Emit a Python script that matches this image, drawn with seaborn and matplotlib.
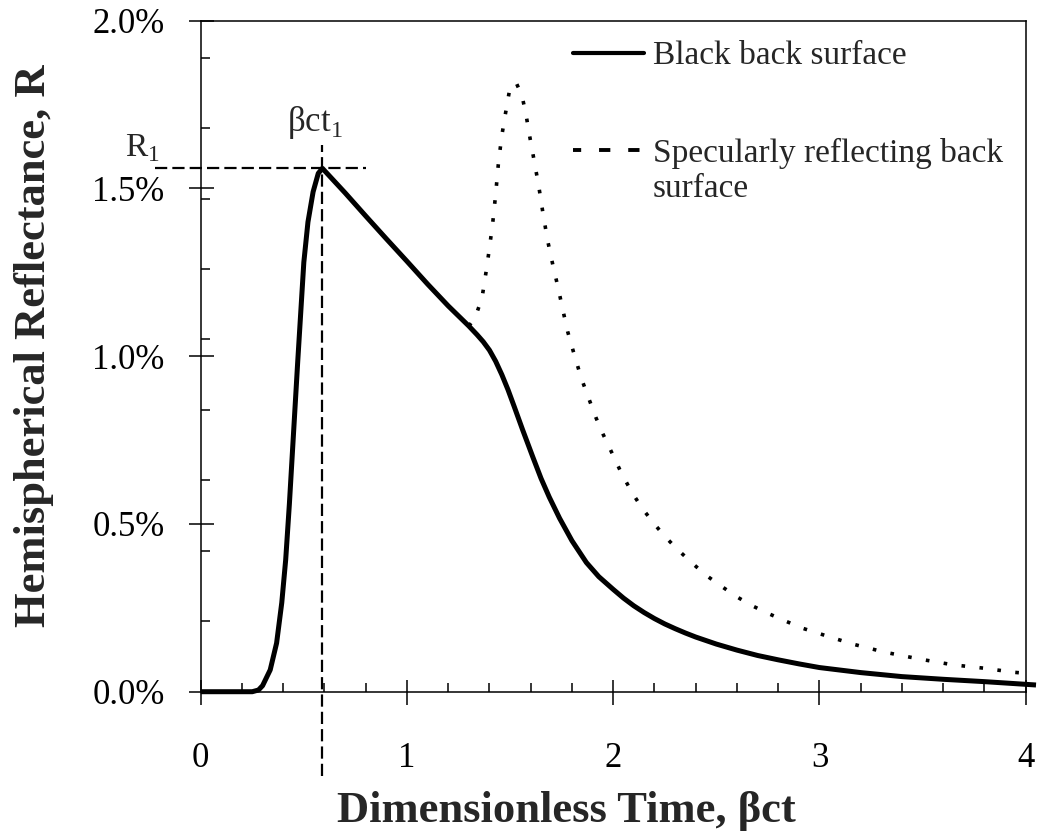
import numpy as np
import pandas as pd
import matplotlib
matplotlib.use("Agg")
import matplotlib.pyplot as plt
from matplotlib.lines import Line2D
from matplotlib.legend_handler import HandlerLine2D
from matplotlib.ticker import FixedLocator, FuncFormatter
import seaborn as sns

# ---------------- data (values in percent) ----------------
t_black = [0.0, 0.25, 0.28, 0.30, 0.337, 0.368, 0.393, 0.412, 0.43, 0.45, 0.47,
           0.485, 0.50, 0.52, 0.545, 0.57, 0.59, 0.70, 0.80, 0.90, 1.00, 1.10,
           1.20, 1.30, 1.34, 1.37, 1.40, 1.43, 1.46, 1.49, 1.52, 1.56, 1.61,
           1.65, 1.69, 1.74, 1.80, 1.87, 1.93, 2.00, 2.05, 2.10, 2.15, 2.20,
           2.25, 2.30, 2.35, 2.40, 2.50, 2.60, 2.70, 2.80, 2.90, 3.00, 3.20,
           3.40, 3.60, 3.80, 4.00, 4.05]
R_black = [0.0, 0.0, 0.005, 0.018, 0.065, 0.145, 0.265, 0.393, 0.56, 0.77, 0.98,
           1.13, 1.28, 1.40, 1.49, 1.545, 1.56, 1.487, 1.418, 1.35, 1.283, 1.215,
           1.15, 1.09, 1.064, 1.043, 1.018, 0.985, 0.945, 0.90, 0.85, 0.782,
           0.70, 0.636, 0.58, 0.517, 0.45, 0.385, 0.343, 0.305, 0.279, 0.256,
           0.236, 0.218, 0.202, 0.188, 0.175, 0.163, 0.142, 0.124, 0.108, 0.095,
           0.083, 0.072, 0.057, 0.045, 0.037, 0.030, 0.022, 0.020]

t_spec = [1.30, 1.33, 1.364, 1.383, 1.399, 1.416, 1.43, 1.443, 1.459, 1.477,
          1.496, 1.529, 1.558, 1.577, 1.597, 1.617, 1.639, 1.658, 1.681, 1.707,
          1.734, 1.758, 1.779, 1.811, 1.845, 1.884, 1.917, 1.952, 1.996, 2.041,
          2.09, 2.138, 2.19, 2.243, 2.305, 2.38, 2.448, 2.523, 2.599, 2.671,
          2.749, 2.822, 2.919, 2.995, 3.161, 3.315, 3.488, 3.649, 3.799, 3.94, 4.0]
R_spec = [1.09, 1.114, 1.174, 1.249, 1.318, 1.398, 1.482, 1.572, 1.654, 1.721,
          1.788, 1.816, 1.776, 1.721, 1.649, 1.582, 1.507, 1.432, 1.348, 1.273,
          1.201, 1.132, 1.074, 1.005, 0.935, 0.87, 0.816, 0.766, 0.709, 0.65,
          0.595, 0.549, 0.507, 0.468, 0.428, 0.385, 0.348, 0.315, 0.283, 0.257,
          0.234, 0.214, 0.189, 0.174, 0.142, 0.118, 0.097, 0.08, 0.07, 0.058, 0.055]

series_labels = ["Black back surface", "Specularly reflecting back\nsurface"]
x_ticks = [0, 1, 2, 3, 4]
y_ticks = [0.0, 0.5, 1.0, 1.5, 2.0]
peak_t = 0.59
peak_R = 1.56

# ---------------- style ----------------
sns.set_style("white")
plt.rcParams["font.family"] = ["Liberation Serif", "DejaVu Serif"]
plt.rcParams["mathtext.fontset"] = "custom"
plt.rcParams["mathtext.rm"] = "Liberation Serif"

fig = plt.figure(figsize=(10.41, 8.36), dpi=100)
ax = fig.add_axes([0.1928, 0.1726, 0.7925, 0.8026])

df_black = pd.DataFrame({"t": t_black, "R": R_black})
df_spec = pd.DataFrame({"t": t_spec, "R": R_spec})

sns.lineplot(data=df_spec, x="t", y="R", ax=ax, color="black", lw=2.6,
             estimator=None, sort=False,
             linestyle=(0, (1, 4)), dash_capstyle="butt", clip_on=False)
sns.lineplot(data=df_black, x="t", y="R", ax=ax, color="black", lw=3.6,
             estimator=None, sort=False, clip_on=False,
             solid_joinstyle="round", solid_capstyle="butt")

# reference dashed lines at peak
ax.plot([peak_t, peak_t], [-0.25, 1.63], color="black", lw=1.6,
        linestyle=(0, (5.5, 2.3)), clip_on=False)
ax.plot([-0.22, 0.80], [peak_R, peak_R], color="black", lw=1.6,
        linestyle=(0, (5.5, 2.3)), clip_on=False)

ax.text(-0.367, 1.596, r"R$_\mathregular{1}$", fontsize=24, ha="left",
        va="baseline")
ax.text(0.417, 1.671, r"βct$_\mathregular{1}$", fontsize=25, ha="left",
        va="baseline")

ax.set_xlim(0, 4)
ax.set_ylim(0, 2.0)

ax.xaxis.set_major_locator(FixedLocator(x_ticks))
ax.xaxis.set_minor_locator(FixedLocator(np.arange(0.2, 4.0, 0.2)))
ax.yaxis.set_major_locator(FixedLocator(y_ticks))
ax.yaxis.set_minor_locator(FixedLocator(np.arange(1, 10) * 0.21))
ax.xaxis.set_major_formatter(FuncFormatter(lambda v, p: f"{v:g}"))
ax.yaxis.set_major_formatter(FuncFormatter(lambda v, p: f"{v:.1f}%"))

for s in ax.spines.values():
    s.set_visible(True)
    s.set_linewidth(1.1)
    s.set_color("black")

ax.tick_params(which="major", direction="inout", length=18, width=1.1,
               labelsize=25, colors="black")
ax.tick_params(which="minor", direction="in", length=6.5, width=1.1,
               colors="black")
ax.tick_params(axis="x", which="major", pad=27)
ax.tick_params(axis="y", which="major", pad=17)
ax.tick_params(which="both", top=False, right=False, bottom=True, left=True)

ax.set_xlabel("Dimensionless Time, βct", fontsize=32, fontweight="bold")
ax.xaxis.set_label_coords(0.443, -0.1937)
ax.xaxis.label.set_verticalalignment("baseline")
ax.set_ylabel("Hemispherical Reflectance, R", fontsize=32, fontweight="bold")
ax.yaxis.set_label_coords(-0.1887, 0.515)
ax.yaxis.label.set_verticalalignment("baseline")


class OffsetHandler(HandlerLine2D):
    def __init__(self, dy=0.0, **kw):
        super().__init__(**kw)
        self.dy = dy

    def create_artists(self, legend, orig_handle, xdescent, ydescent, width,
                       height, fontsize, trans):
        arts = super().create_artists(legend, orig_handle, xdescent, ydescent,
                                      width, height, fontsize, trans)
        for a in arts:
            a.set_ydata(np.asarray(a.get_ydata()) + self.dy)
        return arts


h1 = Line2D([], [], color="black", lw=3.0)
h2 = Line2D([], [], color="black", lw=2.8, linestyle=(0.8, (2.9, 4.6)),
            dash_capstyle="butt")
leg = ax.legend([h1, h2], series_labels, loc="upper left",
                bbox_to_anchor=(0.451, 0.970), frameon=False, fontsize=24,
                handlelength=2.15, handletextpad=0.25, labelspacing=2.0,
                borderpad=0, borderaxespad=0,
                handler_map={h2: OffsetHandler(dy=15)})

fig.savefig("out.png", dpi=100, facecolor="white")
